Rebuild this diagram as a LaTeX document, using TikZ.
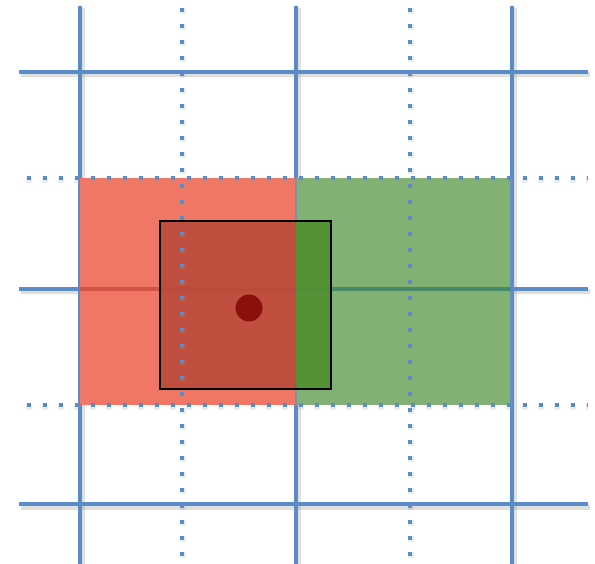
\documentclass[tikz,border=0pt]{standalone}
\begin{document}
\begin{tikzpicture}[x=1pt,y=-1pt,
  gridline/.style={draw=gridblue,line width=4pt},
  gridshadow/.style={draw=black!35,line width=5pt,opacity=0.35},
  dotline/.style={draw=gridblue,line width=4pt,dash pattern=on 4pt off 12pt},
  dotshadow/.style={draw=black!40,line width=6pt,opacity=0.18,dash pattern=on 6pt off 10pt},
]
\definecolor{gridblue}{HTML}{5B8CC8}
\definecolor{redfill}{HTML}{F07766}
\definecolor{greenfill}{HTML}{82B174}
\definecolor{innerred}{HTML}{BA4A3A}
\definecolor{innergreen}{HTML}{4F8F2F}
\definecolor{dotred}{HTML}{8A100C}
\fill[white] (0,0) rectangle (595,564);
\useasboundingbox (0,0) rectangle (595,564);
% shadows of solid lines
\foreach \x in {80,296,512} \draw[gridshadow] (\x+2,8) -- (\x+2,564);
\foreach \y in {72,289,504} \draw[gridshadow] (21,\y+3) -- (590,\y+3);
% solid grid
\foreach \x in {80,296,512} \draw[gridline] (\x,6) -- (\x,564);
\foreach \y in {72,289,504} \draw[gridline] (19,\y) -- (588,\y);
% coloured cells
\fill[redfill] (80,178) rectangle (296,405);
\fill[greenfill] (296,178) rectangle (512,405);
\draw[line width=4pt,draw=red!55!black,opacity=0.3] (80,289) -- (296,289);
\draw[line width=4pt,draw=teal!70!black,opacity=0.45] (296,289) -- (512,289);
\draw[gridblue,line width=2pt,opacity=0.6] (296,178) -- (296,405);
\draw[gridblue,line width=3pt,opacity=0.8] (511,178) -- (511,405);
% inner window
\fill[innerred,opacity=0.9] (160,221) rectangle (296,389);
\fill[innergreen,opacity=0.9] (296,221) rectangle (331,389);
% dotted lines
\foreach \x in {182,410} {\draw[dotshadow] (\x+1,8) -- (\x+1,564); \draw[dotline] (\x,8) -- (\x,564);}
\foreach \y in {178,405} {\draw[dotshadow] (26,\y+2) -- (588,\y+2); \draw[dotline] (27,\y) -- (588,\y);}
% window outline
\draw[black,line width=1.6pt] (160,221) rectangle (331,389);
% centre point
\fill[dotred] (249,308) circle (13.5);
\end{tikzpicture}
\end{document}
